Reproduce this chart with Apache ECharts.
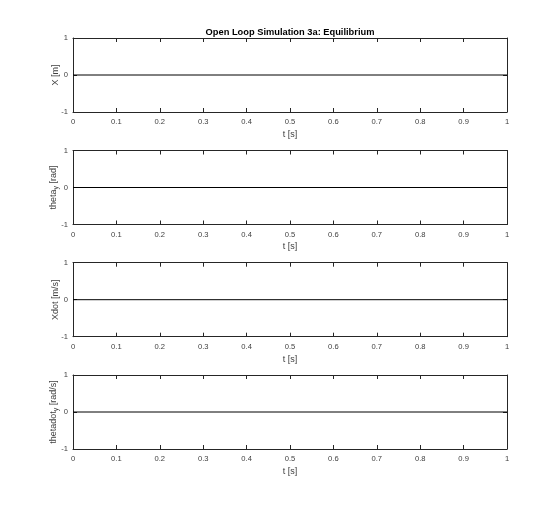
<!DOCTYPE html>
<html>
<head>
<meta charset="utf-8">
<script src="https://cdn.jsdelivr.net/npm/echarts@6/dist/echarts.min.js"></script>
<style>html,body{margin:0;padding:0;background:#fff}#c{width:560px;height:511px}</style>
</head>
<body>
<div id="c"></div>
<script>
var titleText = 'Open Loop Simulation 3a: Equilibrium';
var time = [0, 1];
var X = [0, 0];
var thetaY = [0, 0];
var Xdot = [0, 0];
var thetadotY = [0, 0];
var xTicks = [0, 0.1, 0.2, 0.3, 0.4, 0.5, 0.6, 0.7, 0.8, 0.9, 1];
var yTicks = [-1, 0, 1];
var xLabel = 't [s]';
var yLabels = [
  '{m|X [m]}',
  '{m|theta}{s|y}{m| [rad]}',
  '{m|Xdot [m/s]}',
  '{m|thetadot}{s|y}{m| [rad/s]}'
];
var seriesData = [X, thetaY, Xdot, thetadotY];

var axisColor = '#262626';
var labelColor = '#404040';
var font = 'Liberation Sans, Arial, Helvetica, sans-serif';
var tops = [38, 150.5, 262.7, 375];
var grids = [], xAxes = [], yAxes = [], series = [];
tops.forEach(function (t, i) {
  grids.push({left: 73, right: 53, top: t, height: 74, containLabel: false});
  xAxes.push({
    gridIndex: i, type: 'value', min: 0, max: 1, interval: 0.1, position: 'bottom',
    name: xLabel, nameLocation: 'middle', nameGap: 18,
    nameTextStyle: {color: labelColor, fontSize: 9, fontFamily: font},
    axisLine: {show: true, onZero: false, lineStyle: {color: axisColor, width: 1}},
    axisTick: {show: true, inside: true, length: 4, lineStyle: {color: axisColor}},
    axisLabel: {color: labelColor, fontSize: 7.6, fontFamily: font, margin: 6,
      formatter: function (v) { return String(Math.round(v * 10) / 10); }},
    splitLine: {show: false}
  });
  xAxes.push({
    gridIndex: i, type: 'value', min: 0, max: 1, interval: 0.1, position: 'top',
    axisLine: {show: true, onZero: false, lineStyle: {color: axisColor, width: 1}},
    axisTick: {show: true, inside: true, length: 4, lineStyle: {color: axisColor}},
    axisLabel: {show: false}, splitLine: {show: false}
  });
  yAxes.push({
    gridIndex: i, type: 'value', min: -1, max: 1, interval: 1, position: 'left',
    name: yLabels[i], nameLocation: 'middle', nameGap: 13, nameRotate: 90,
    nameMoveOverlap: false,
    nameTextStyle: {color: labelColor, fontSize: 9, fontFamily: font,
      rich: {m: {fontSize: 9, color: labelColor, fontFamily: font},
             s: {fontSize: 7, color: labelColor, fontFamily: font, verticalAlign: 'bottom', padding: [5, 0, 0, 0]}}},
    axisLine: {show: true, onZero: false, lineStyle: {color: axisColor, width: 1}},
    axisTick: {show: true, inside: true, length: 4, lineStyle: {color: axisColor}},
    axisLabel: {color: labelColor, fontSize: 7.6, fontFamily: font, margin: 5},
    splitLine: {show: false}
  });
  yAxes.push({
    gridIndex: i, type: 'value', min: -1, max: 1, interval: 1, position: 'right',
    axisLine: {show: true, onZero: false, lineStyle: {color: axisColor, width: 1}},
    axisTick: {show: true, inside: true, length: 4, lineStyle: {color: axisColor}},
    axisLabel: {show: false}, splitLine: {show: false}
  });
  series.push({
    type: 'line', xAxisIndex: i * 2, yAxisIndex: i * 2,
    data: time.map(function (tt, k) { return [tt, seriesData[i][k]]; }),
    showSymbol: false, symbol: 'none', lineStyle: {color: '#000', width: 1}, animation: false
  });
});

var chart = echarts.init(document.getElementById('c'), null, {renderer: 'canvas'});
chart.setOption({
  backgroundColor: '#fff',
  animation: false,
  title: {text: titleText, left: 290, textAlign: 'center', top: 28, padding: 0,
    textStyle: {fontSize: 9.3, fontWeight: 'bold', color: '#000', fontFamily: font}},
  grid: grids, xAxis: xAxes, yAxis: yAxes, series: series
});
</script>
</body>
</html>
